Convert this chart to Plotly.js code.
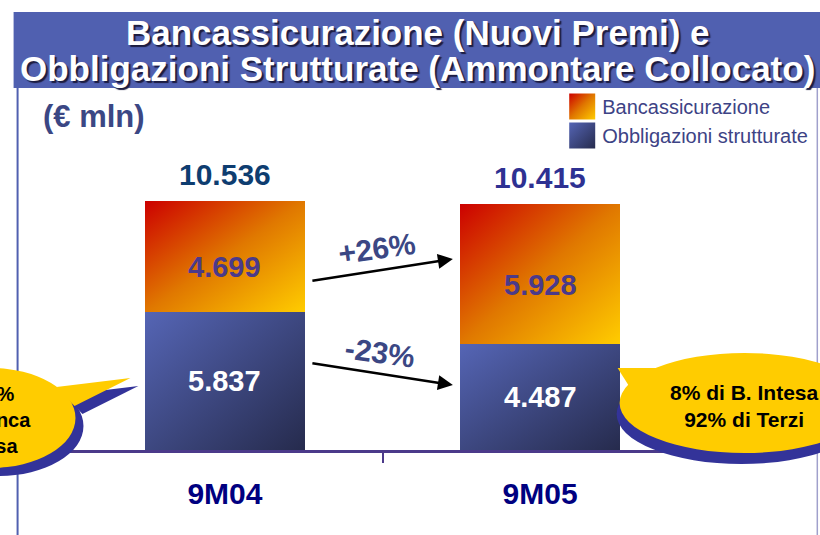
<!DOCTYPE html>
<html>
<head>
<meta charset="utf-8">
<script src="https://cdn.plot.ly/plotly-3.0.1.min.js"></script>
<style>
  html, body { margin: 0; padding: 0; background: #fff; }
  #chart { width: 820px; height: 535px; }
</style>
</head>
<body>
<div id="chart"></div>
<script>
// values (€ mln)
var periods = ['9M04', '9M05'];
var obbligazioni = [5837, 4487];
var bancassicurazione = [4699, 5928];
var seriesNames = ['Bancassicurazione', 'Obbligazioni strutturate'];
var titleLines = ['Bancassicurazione (Nuovi Premi) e', 'Obbligazioni Strutturate (Ammontare Collocato)'];
var unitLabel = '(€ mln)';
var calloutLeft = ['100%', 'di Banca', 'Intesa'];
var calloutRight = ['8% di B. Intesa', '92% di Terzi'];

var totals = periods.map(function (p, i) { return obbligazioni[i] + bancassicurazione[i]; });

function fmt(n) { return String(n).replace(/\B(?=(\d{3})+(?!\d))/g, '.'); }
function pct(a, b) { var v = Math.round((b / a - 1) * 100); return (v > 0 ? '+' : '') + v + '%'; }

// plot area in pixels, used to place the decorations
var L = 67.5, W = 630, T = 100, H = 350;
function px(x) { return (x - L) / W; }
function py(y) { return (T + H - y) / H; }

var FONT = 'Liberation Sans, Arial, sans-serif';
var totalColors = ['#0E3D70', '#2E3192'];

var traces = [
  { type: 'bar', name: seriesNames[1], x: periods, y: obbligazioni, width: 0.505,
    marker: { color: '#3E4A8A', line: { width: 0 } } },
  { type: 'bar', name: seriesNames[0], x: periods, y: bancassicurazione, width: 0.505,
    marker: { color: '#E07800', line: { width: 0 } } }
];

var annotations = [];
function note(o) {
  annotations.push(Object.assign({ xref: 'paper', yref: 'paper', xanchor: 'center', yanchor: 'middle',
    showarrow: false }, o));
}

// title band text
var titleFont = { family: FONT, size: 35, weight: 'bold', color: '#fff', shadow: '2px 2px 1px #1c1c40' };
note({ x: px(418), y: py(33), text: titleLines[0], font: titleFont });
note({ x: px(418), y: py(68), text: titleLines[1], font: titleFont });
note({ x: px(40), y: py(116), xanchor: 'left', text: unitLabel,
  font: { family: FONT, size: 31, weight: 'bold', color: '#3B4784' } });

// bar labels
periods.forEach(function (p, i) {
  annotations.push({ xref: 'x', yref: 'y', x: p, y: totals[i], yshift: 26, showarrow: false,
    text: fmt(totals[i]), font: { family: FONT, size: 30, weight: 'bold', color: totalColors[i] } });
  annotations.push({ xref: 'x', yref: 'y', x: p, y: obbligazioni[i] + bancassicurazione[i] / 2, yshift: -11,
    showarrow: false, text: fmt(bancassicurazione[i]),
    font: { family: FONT, size: 29, weight: 'bold', color: '#4B3A8A' } });
  annotations.push({ xref: 'x', yref: 'y', x: p, y: obbligazioni[i] / 2, showarrow: false,
    text: fmt(obbligazioni[i]), font: { family: FONT, size: 29, weight: 'bold', color: '#fff' } });
});

// growth arrows
var arrowStyle = { text: '', showarrow: true, axref: 'pixel', ayref: 'pixel',
  arrowhead: 2, arrowsize: 1.2, arrowwidth: 2.5, arrowcolor: '#000', standoff: 0 };
note(Object.assign({ x: px(453), y: py(259), ax: -142, ay: 22 }, arrowStyle));
note(Object.assign({ x: px(453), y: py(385), ax: -142, ay: -22 }, arrowStyle));
note({ x: px(377), y: py(248), textangle: -8, text: pct(bancassicurazione[0], bancassicurazione[1]),
  font: { family: FONT, size: 30, weight: 'bold', color: '#3B4784' } });
note({ x: px(380), y: py(352), textangle: 8, text: pct(obbligazioni[0], obbligazioni[1]),
  font: { family: FONT, size: 30, weight: 'bold', color: '#3B4784' } });

// callout texts (the left one runs off the page, as in the original slide)
note({ x: px(-12), y: py(420), text: calloutLeft.join('<br>'),
  font: { family: FONT, size: 20, weight: 'bold', color: '#000' } });
note({ x: px(745), y: py(406), text: calloutRight.join('<br>'),
  font: { family: FONT, size: 21, weight: 'bold', color: '#000' } });

function ellipse(cx, cy, rx, ry, color) {
  return { type: 'circle', xref: 'paper', yref: 'paper', x0: px(cx - rx), x1: px(cx + rx),
    y0: py(cy + ry), y1: py(cy - ry), fillcolor: color, line: { width: 0 } };
}
function poly(pts, color) {
  var d = pts.map(function (p, k) { return (k ? 'L' : 'M') + px(p[0]) + ',' + py(p[1]); }).join('') + 'Z';
  return { type: 'path', xref: 'paper', yref: 'paper', path: d, fillcolor: color, line: { width: 0 } };
}

var shapes = [
  { type: 'rect', xref: 'paper', yref: 'paper', x0: px(13), x1: px(822), y0: py(88), y1: py(12),
    fillcolor: '#5060B0', line: { width: 0 } },
  { type: 'line', xref: 'paper', yref: 'paper', x0: px(17), x1: px(17), y0: py(88), y1: py(540),
    line: { color: '#5060B0', width: 2 } },
  { type: 'line', xref: 'paper', yref: 'paper', x0: px(818), x1: px(818), y0: py(88), y1: py(540),
    line: { color: '#A0A0CC', width: 1.5 } },
  // left callout
  ellipse(-2, 426, 85, 50, '#333399'),
  poly([[64, 395], [138, 386], [82, 414]], '#333399'),
  ellipse(-10, 418, 85, 50, '#FFCC00'),
  poly([[56, 387], [130, 378], [74, 406]], '#FFCC00'),
  // right callout
  ellipse(742, 414, 125, 50, '#333399'),
  ellipse(745, 403, 125, 50, '#FFCC00'),
  poly([[670, 368], [618, 368], [635, 395]], '#FFCC00')
];

var layout = {
  width: 820, height: 535,
  margin: { l: L, r: 820 - L - W, t: T, b: 535 - T - H, autoexpand: false },
  paper_bgcolor: '#fff', plot_bgcolor: '#fff',
  barmode: 'stack',
  showlegend: true,
  legend: { x: px(562.5), xanchor: 'left', y: py(87), yanchor: 'top', traceorder: 'reversed',
    bgcolor: 'rgba(0,0,0,0)', font: { family: FONT, size: 20, color: '#3D4385' } },
  xaxis: { type: 'category', range: [-0.498, 1.498], showline: true, linecolor: '#4B3A8A', linewidth: 2.5,
    ticks: 'outside', tickson: 'boundaries', ticklen: 10, tickwidth: 2, tickcolor: '#4B3A8A',
    ticklabelstandoff: 15, showgrid: false, zeroline: false,
    tickfont: { family: FONT, size: 30, weight: 'bold', color: '#000080' } },
  yaxis: { range: [0, 14800], visible: false, showgrid: false, zeroline: false },
  shapes: shapes,
  annotations: annotations
};

Plotly.newPlot('chart', traces, layout, { staticPlot: true }).then(function (gd) {
  var ns = 'http://www.w3.org/2000/svg';
  var svg = gd.querySelector('.main-svg');
  var defs = svg.querySelector('defs');
  if (!defs) { defs = document.createElementNS(ns, 'defs'); svg.insertBefore(defs, svg.firstChild); }
  function grad(id, stops) {
    var g = document.createElementNS(ns, 'linearGradient');
    g.setAttribute('id', id);
    g.setAttribute('x1', '0'); g.setAttribute('y1', '0');
    g.setAttribute('x2', '1'); g.setAttribute('y2', '1');
    stops.forEach(function (s) {
      var st = document.createElementNS(ns, 'stop');
      st.setAttribute('offset', s[0]);
      st.setAttribute('stop-color', s[1]);
      g.appendChild(st);
    });
    defs.appendChild(g);
  }
  grad('g-banc', [[0, '#CC0000'], [0.5, '#E07800'], [1, '#FFCC00']]);
  grad('g-obbl', [[0, '#5565B5'], [1, '#262B4D']]);
  var fills = {};
  fills[seriesNames[0]] = 'url(#g-banc)';
  fills[seriesNames[1]] = 'url(#g-obbl)';

  gd.querySelectorAll('.barlayer .trace').forEach(function (tr) {
    var name = tr.__data__[0].trace.name;
    tr.querySelectorAll('path').forEach(function (p) { p.style.fill = fills[name]; });
  });
  // bigger gradient swatches in the legend
  gd.querySelectorAll('.legend .traces').forEach(function (it) {
    var name = it.__data__[0].trace.name;
    it.querySelectorAll('.legendpoints path').forEach(function (p) {
      p.style.fill = fills[name];
      p.setAttribute('d', 'M13,13H-13V-13H13Z');
    });
  });
});
</script>
</body>
</html>
